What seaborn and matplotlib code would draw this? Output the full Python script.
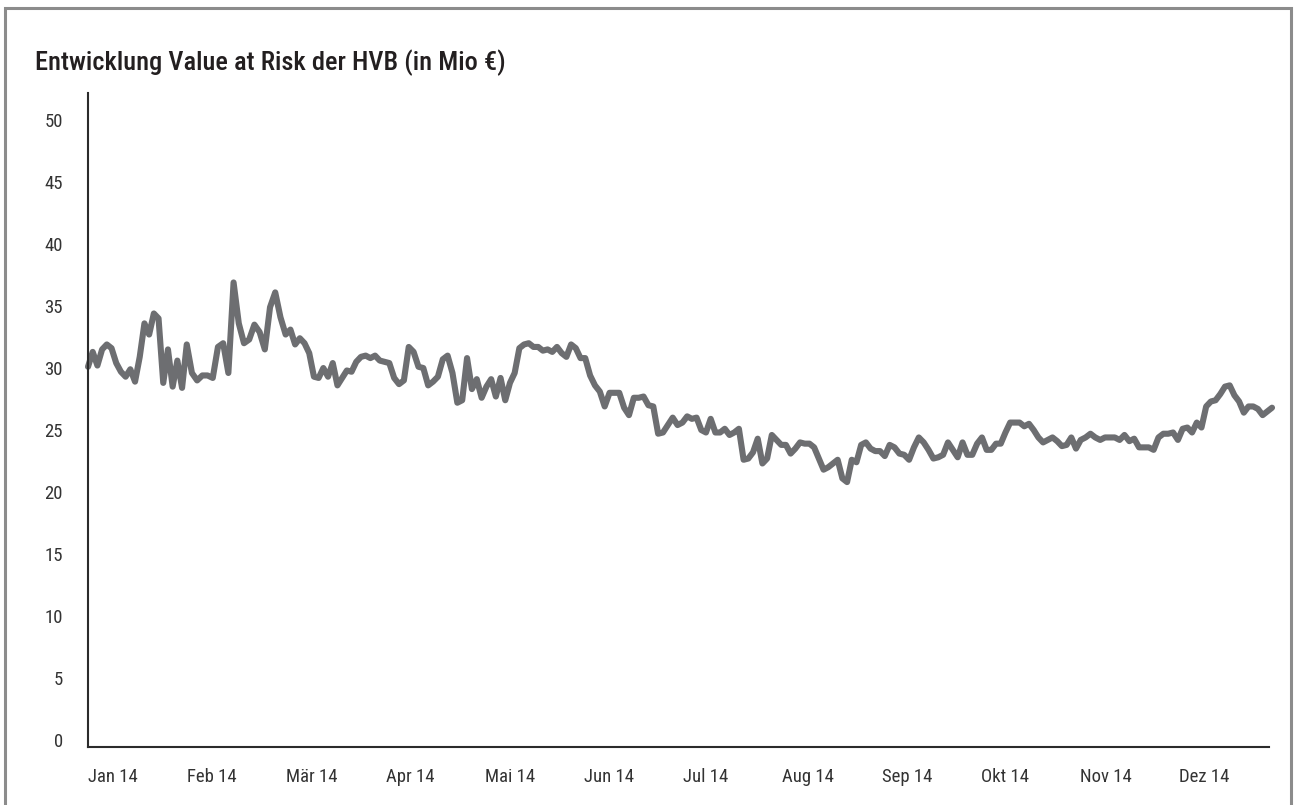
import numpy as np
import pandas as pd
import matplotlib
matplotlib.use("Agg")
import matplotlib.pyplot as plt
from matplotlib import font_manager as fm
import seaborn as sns
from matplotlib.patches import Rectangle

# ---------------- data ----------------
title = "Entwicklung Value at Risk der HVB (in Mio €)"
month_labels = ["Jan 14", "Feb 14", "Mär 14", "Apr 14", "Mai 14", "Jun 14",
                "Jul 14", "Aug 14", "Sep 14", "Okt 14", "Nov 14", "Dez 14"]
y_ticks = [0, 5, 10, 15, 20, 25, 30, 35, 40, 45, 50]
period_start = "2014-01-01"
period_end = "2014-12-30"

var_values = [
    30.1, 31.3, 30.2, 31.5, 31.9, 31.6, 30.4, 29.7, 29.3, 29.9,
    28.9, 30.9, 33.6, 32.7, 34.4, 34.0, 28.8, 31.5, 28.5, 30.6,
    28.4, 31.9, 29.6, 29.0, 29.4, 29.4, 29.2, 31.7, 32.0, 29.6,
    36.9, 33.6, 32.0, 32.3, 33.5, 32.9, 31.5, 34.9, 36.1, 34.1,
    32.7, 33.1, 31.9, 32.4, 32.0, 31.2, 29.3, 29.2, 30.0, 29.3,
    30.4, 28.6, 29.2, 29.8, 29.7, 30.5, 30.9, 31.0, 30.8, 31.0,
    30.6,
    30.5, 30.4, 29.2, 28.7, 29.0, 31.7, 31.3, 30.1, 30.0, 28.6,
    28.9, 29.3, 30.7, 31.0, 29.6, 27.2, 27.4, 30.8, 28.3, 29.1,
    27.6, 28.5, 29.1, 27.7, 29.2, 27.4, 28.8, 29.6, 31.6, 31.9,
    32.0, 31.7, 31.7, 31.4, 31.5, 31.3, 31.7, 31.2, 30.9, 31.9,
    31.6, 30.8, 30.8, 29.4, 28.6, 28.1, 26.9, 28.0, 28.0, 28.0,
    26.8, 26.2, 27.6, 27.6, 27.7, 27.0, 26.9, 24.7, 24.8, 25.4,
    26.0, 25.4,
    25.6, 26.1, 25.9, 26.0, 25.0, 24.8, 25.9, 24.8, 24.8, 25.1,
    24.6, 24.8, 25.1, 22.6, 22.7, 23.2, 24.3, 22.3, 22.7, 24.6,
    24.2, 23.8, 23.8, 23.1, 23.5, 24.0, 23.9, 23.9, 23.6, 22.7,
    21.8, 22.0, 22.3, 22.6, 21.1, 20.8, 22.6, 22.4, 23.8, 24.0,
    23.5, 23.3, 23.3, 22.9, 23.8, 23.6, 23.1, 23.0, 22.6, 23.6,
    24.4, 24.0, 23.4, 22.7, 22.8, 23.0, 24.0, 23.4, 22.8, 24.0,
    23.0, 23.0, 23.9, 24.4,
    23.4, 23.4, 23.9, 23.9, 24.8, 25.6, 25.6, 25.6, 25.3, 25.5,
    25.0, 24.4, 24.0, 24.2, 24.4, 24.1, 23.7, 23.8, 24.4, 23.5,
    24.2, 24.4, 24.7, 24.4, 24.2, 24.4, 24.4, 24.4, 24.2, 24.6,
    24.1, 24.3, 23.6, 23.6, 23.6, 23.4, 24.4, 24.7, 24.7, 24.8,
    24.2, 25.1, 25.2, 24.8, 25.6, 25.2, 26.9, 27.3, 27.4, 27.9,
    28.5, 28.6, 27.8, 27.3, 26.4, 26.9, 26.9, 26.7, 26.2, 26.5,
    26.8,
]

# ---------------- style ----------------
sns.set_theme(style="white")

# pick a condensed / narrow sans face if one is installed
entries = fm.fontManager.ttflist
family, stretch, condensed = "Roboto", "normal", False
prefs = ["Liberation Sans Narrow", "Roboto Condensed", "Open Sans Condensed",
         "Noto Sans Condensed", "Arial Narrow"]
names = {e.name for e in entries}
for p in prefs:
    if p in names:
        family, condensed = p, True
        break
if not condensed:
    for base in ["Roboto", "Noto Sans", "Open Sans", "DejaVu Sans", "Liberation Sans"]:
        hits = [e for e in entries if e.name == base and
                str(e.stretch) in ("condensed", "semi-condensed", "extra-condensed")]
        if hits:
            family, stretch, condensed = base, str(hits[0].stretch), True
            break
if not condensed and "Roboto" not in names:
    family = "Liberation Sans"

plt.rcParams["font.family"] = [family, "DejaVu Sans"]
plt.rcParams["font.stretch"] = stretch

tick_size = 13.5 if condensed else 12.5
title_size = 19 if condensed else 17

# dates -> evenly spaced month axis (each month one unit wide)
dates = pd.date_range(period_start, period_end, periods=len(var_values))
month_start = dates.to_period("M").to_timestamp()
frac = ((dates - month_start) / pd.Timedelta(days=1)) / dates.days_in_month
pos = (dates.month - 1) + np.asarray(frac)
df = pd.DataFrame({"pos": pos, "var": var_values})

W, H = 1295, 805
fig = plt.figure(figsize=(W / 100, H / 100), dpi=100)
fig.patch.set_facecolor("white")
ax = fig.add_axes([88 / W, 58 / H, 1181 / W, 654 / H])

sns.lineplot(data=df, x="pos", y="var", ax=ax, color="#6d6e71",
             linewidth=4.4, solid_joinstyle="round", solid_capstyle="round",
             clip_on=False)

ax.set_xlim(0, 11.905)
ax.set_ylim(-0.565, 52.18)
ax.set_yticks(y_ticks)
ax.set_yticklabels([str(v) for v in y_ticks])
ax.set_xticks(range(len(month_labels)))
ax.set_xticklabels(month_labels, ha="left")
ax.set_xlabel("")
ax.set_ylabel("")
ax.tick_params(axis="both", length=0, labelsize=tick_size, colors="#333333")
ax.tick_params(axis="y", pad=18)
ax.tick_params(axis="x", pad=15)

for side in ["top", "right"]:
    ax.spines[side].set_visible(False)
for side in ["left", "bottom"]:
    ax.spines[side].set_visible(True)
    ax.spines[side].set_color("#2b2b2b")
    ax.spines[side].set_linewidth(1.5)
ax.grid(False)
ax.set_facecolor("white")

fig.text(35 / W, 1 - 70 / H, title, ha="left", va="baseline",
         fontsize=title_size, color="#231f20", fontweight="medium")

fig.add_artist(Rectangle((5 / W, -0.05), (1291 - 5) / W, (H - 8) / H + 0.05,
                         transform=fig.transFigure, fill=False,
                         edgecolor="#8c8c8c", linewidth=2.2, clip_on=False))

fig.savefig("out.png", dpi=100, facecolor="white")
